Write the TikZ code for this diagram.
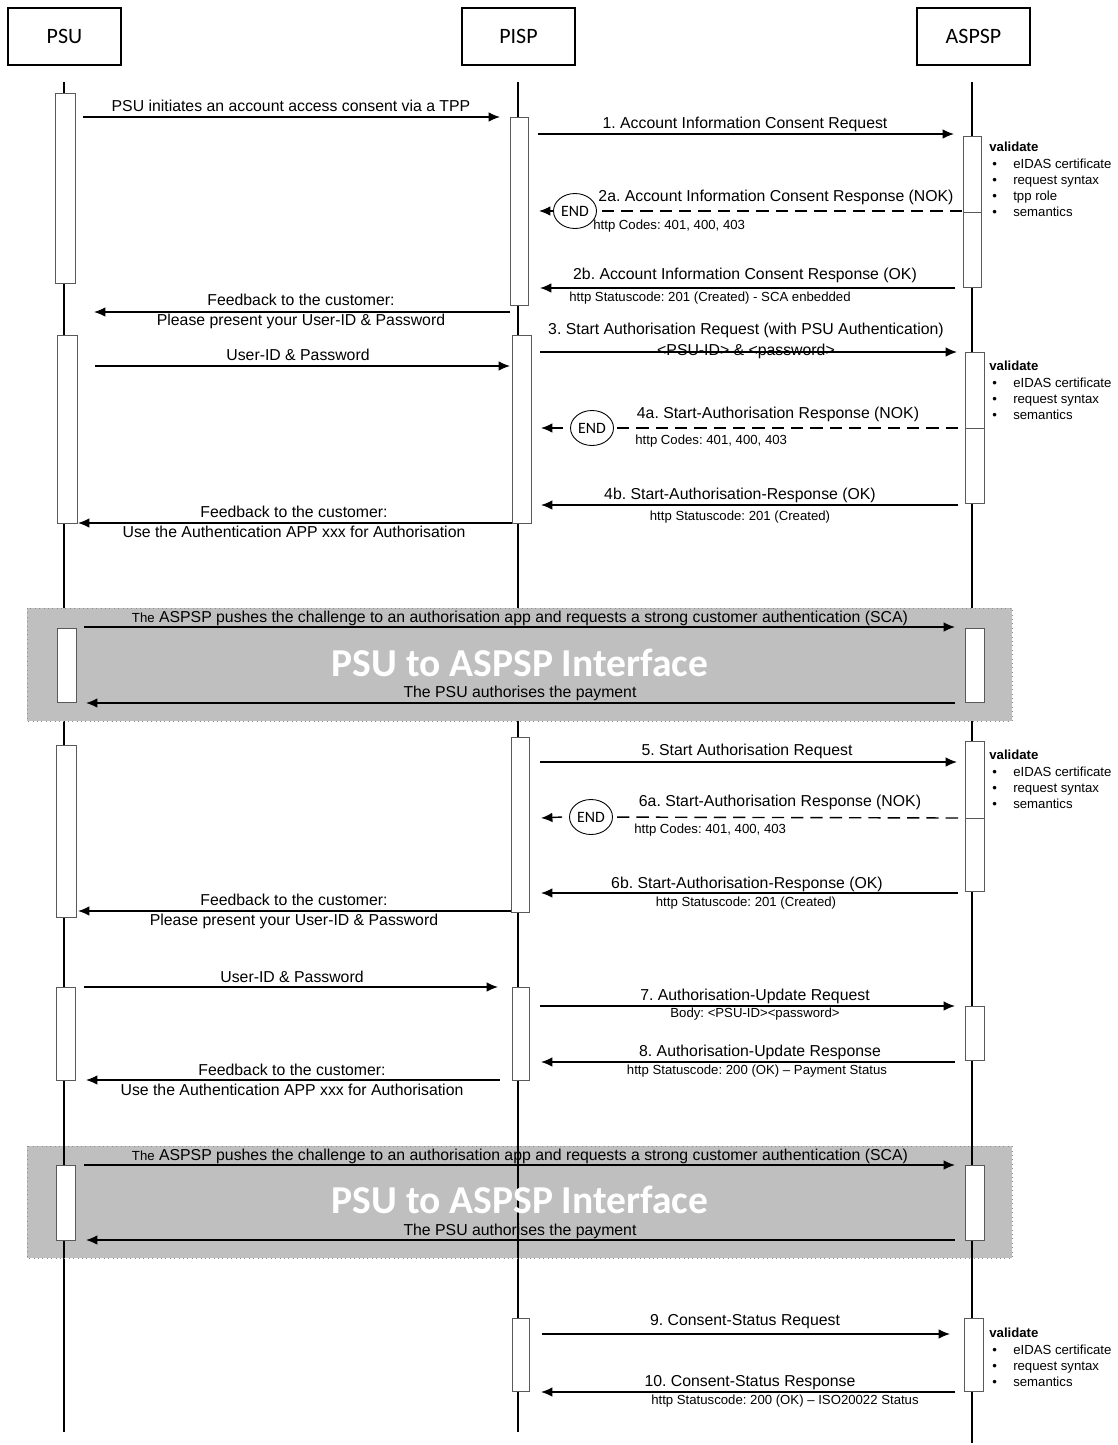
\documentclass[tikz,border=0pt]{standalone}
\usepackage{fontspec}
\setmainfont{Liberation Sans}
\newfontfamily\calibri{Carlito}
\usepackage{tikz}
\usetikzlibrary{shapes, arrows, arrows.meta, positioning}
\frenchspacing

\begin{document}
\begin{tikzpicture}[x=0.02cm, y=-0.02cm]
\tikzset{actor/.style = {draw, line width=0.6pt, minimum width=2.26cm, minimum height=1.14cm, font=\calibri\fontsize{12.5}{15}\selectfont},
	life/.style = {line width=1.3pt},
	act/.style = {draw=black!65, fill=white, line width=0.5pt},
	edge/.style = {-{Latex[length=6.5pt, width=5.5pt]}, line width=0.8pt},
	nok/.style = {line width=0.8pt, dash pattern=on 7pt off 4pt},
	lbl/.style = {inner sep=0pt, align=center, font=\fontsize{9}{11.3}\selectfont},
	sub/.style = {inner sep=0pt, font=\fontsize{7.5}{9}\selectfont},
	endstate/.style = {draw, ellipse, fill=white, inner sep=0pt, line width=0.5pt, minimum width=0.86cm, minimum height=0.7cm, font=\calibri\fontsize{9}{10}\selectfont},
	chk/.style = {anchor=north west, inner sep=0pt, align=left, font=\fontsize{7.5}{9.2}\selectfont},
	iface/.style = {fill=black!25, draw=black!45, dotted, line width=0.5pt},
	big/.style = {inner sep=0pt, text=white, font=\calibri\bfseries\fontsize{22.5}{26}\selectfont}}
\useasboundingbox (0,0) rectangle (1118,1445);
            % actors
	\node[actor] (psu) at (64.5,36.5) {PSU};
	\node[actor] (pisp) at (518.5,36.5) {PISP};
	\node[actor] (aspsp) at (973.5,36.5) {ASPSP};
            % lifelines
	\coordinate (psuTop) at (64,82);   \coordinate (psuBot) at (64,1432);
	\coordinate (pispTop) at (518,82); \coordinate (pispBot) at (518,1432);
	\coordinate (aspspTop) at (972,82); \coordinate (aspspBot) at (972,1443);
	\draw[life] (psuTop) -- (psuBot);
	\draw[life] (pispTop) -- (pispBot);
	\draw[life] (aspspTop) -- (aspspBot);

            % account information consent
	\draw[act] (55,93) rectangle (75,283);
	\draw[act] (510,117) rectangle (528,305);
	\draw[act] (963,136) rectangle (981,287);
	\draw[act] (963,212) -- (981,212);
	\node[chk] (val1) at (989,142) {\textbf{validate}\\\hspace{1.7pt}\textbullet\hspace{9.3pt}eIDAS certificate\\\hspace{1.7pt}\textbullet\hspace{9.3pt}request syntax\\\hspace{1.7pt}\textbullet\hspace{9.3pt}tpp role\\\hspace{1.7pt}\textbullet\hspace{9.3pt}semantics};

	\coordinate (m0s) at (83,117);  \coordinate (m0e) at (500,117);
	\draw[edge] (m0s) to (m0e);
	\node[lbl] (l0) at (291,106) {PSU initiates an account access consent via a TPP};

	\coordinate (m1s) at (538,134); \coordinate (m1e) at (954,134);
	\draw[edge] (m1s) to (m1e);
	\node[lbl] (l1) at (745,124) {1. Account Information Consent Request};

	\node[endstate] (end1) at (575,211) {END};
	\coordinate (m2as) at (962,211); \coordinate (m2ae) at (539,211);
	\draw[nok] (m2as) to (end1);
	\draw[edge] (end1.west) to (m2ae);
	\node[lbl] (l2a) at (776,197) {2a. Account Information Consent Response (NOK)};
	\node[sub, anchor=west] (s2a) at (593,226) {http Codes: 401, 400, 403};

	\coordinate (m2bs) at (955,288); \coordinate (m2be) at (540,288);
	\draw[edge] (m2bs) to (m2be);
	\node[lbl] (l2b) at (745,275) {2b. Account Information Consent Response (OK)};
	\node[sub] (s2b) at (710,298) {http Statuscode: 201 (Created) - SCA enbedded};

	\coordinate (f1s) at (510,312); \coordinate (f1e) at (94,312);
	\draw[edge] (f1s) to (f1e);
	\node[lbl] (lf1) at (301,311) {Feedback to the customer:\\Please present your User-ID \& Password};

            % start authorisation with psu authentication
	\draw[act] (57,335) rectangle (77,523);
	\draw[act] (512,335) rectangle (531,523);
	\draw[act] (965,352) rectangle (984,503);
	\draw[act] (965,428) -- (984,428);
	\node[chk] (val2) at (989,361) {\textbf{validate}\\\hspace{1.7pt}\textbullet\hspace{9.3pt}eIDAS certificate\\\hspace{1.7pt}\textbullet\hspace{9.3pt}request syntax\\\hspace{1.7pt}\textbullet\hspace{9.3pt}semantics};

	\coordinate (m3s) at (540,352); \coordinate (m3e) at (957,352);
	\draw[edge] (m3s) to (m3e);
	\node[lbl] (l3) at (746,330) {3. Start Authorisation Request (with PSU Authentication)};
	\node[lbl] (s3) at (746,351) {<PSU-ID> \& <password>};

	\coordinate (u1s) at (95,366); \coordinate (u1e) at (510,366);
	\draw[edge] (u1s) to (u1e);
	\node[lbl] (lu1) at (298,355) {User-ID \& Password};

	\node[endstate] (end2) at (592,428) {END};
	\coordinate (m4as) at (958,428); \coordinate (m4ae) at (541,428);
	\draw[nok] (m4as) to (end2);
	\draw[edge] ([xshift=-4pt]end2.west) to (m4ae);
	\node[lbl] (l4a) at (778,414) {4a. Start-Authorisation Response (NOK)};
	\node[sub, anchor=west] (s4a) at (635,441) {http Codes: 401, 400, 403};

	\coordinate (m4bs) at (958,505); \coordinate (m4be) at (541,505);
	\draw[edge] (m4bs) to (m4be);
	\node[lbl] (l4b) at (740,495) {4b. Start-Authorisation-Response (OK)};
	\node[sub] (s4b) at (740,517) {http Statuscode: 201 (Created)};

	\coordinate (f2s) at (512,523); \coordinate (f2e) at (78,523);
	\draw[edge] (f2s) to (f2e);
	\node[lbl] (lf2) at (294,522) {Feedback to the customer:\\Use the Authentication APP xxx for Authorisation};

            % psu to aspsp interface
	\coordinate (if1a) at (27,608); \coordinate (if1b) at (1012,721);
	\draw[iface] (if1a) rectangle (if1b);
	\draw[act] (57,628) rectangle (76,702);
	\draw[act] (965,628) rectangle (984,702);
	\coordinate (p1s) at (84,627); \coordinate (p1e) at (955,627);
	\draw[edge] (p1s) to (p1e);
	\node[lbl] (lp1) at (520,618) {{\fontsize{7.5}{9}\selectfont The} ASPSP pushes the challenge to an authorisation app and requests a strong customer authentication (SCA)};
	\node[big] (if1) at (520,663) {PSU to ASPSP Interface};
	\coordinate (q1s) at (955,703); \coordinate (q1e) at (86,703);
	\draw[edge] (q1s) to (q1e);
	\node[lbl] (lq1) at (520,693) {The PSU authorises the payment};

            % start authorisation
	\draw[act] (56,745) rectangle (76,917);
	\draw[act] (511,737) rectangle (529,912);
	\draw[act] (965,741) rectangle (984,891);
	\draw[act] (965,818) -- (984,818);
	\node[chk] (val3) at (989,750) {\textbf{validate}\\\hspace{1.7pt}\textbullet\hspace{9.3pt}eIDAS certificate\\\hspace{1.7pt}\textbullet\hspace{9.3pt}request syntax\\\hspace{1.7pt}\textbullet\hspace{9.3pt}semantics};

	\coordinate (m5s) at (540,762); \coordinate (m5e) at (957,762);
	\draw[edge] (m5s) to (m5e);
	\node[lbl] (l5) at (747,751) {5. Start Authorisation Request};

	\node[endstate] (end3) at (591,817) {END};
	\coordinate (m6as) at (958,818); \coordinate (m6ae) at (541,818);
	\draw[nok] (m6as) to (end3);
	\draw[edge] ([xshift=-4pt]end3.west) to (m6ae);
	\node[lbl] (l6a) at (780,802) {6a. Start-Authorisation Response (NOK)};
	\node[sub, anchor=west] (s6a) at (634,830) {http Codes: 401, 400, 403};

	\coordinate (m6bs) at (958,893); \coordinate (m6be) at (541,893);
	\draw[edge] (m6bs) to (m6be);
	\node[lbl] (l6b) at (747,884) {6b. Start-Authorisation-Response (OK)};
	\node[sub] (s6b) at (746,903) {http Statuscode: 201 (Created)};

	\coordinate (f3s) at (511,911); \coordinate (f3e) at (78,911);
	\draw[edge] (f3s) to (f3e);
	\node[lbl] (lf3) at (294,911) {Feedback to the customer:\\Please present your User-ID \& Password};

            % authorisation update
	\draw[act] (56,987) rectangle (75,1080);
	\draw[act] (512,987) rectangle (529,1080);
	\draw[act] (965,1006) rectangle (984,1060);

	\coordinate (u2s) at (84,987); \coordinate (u2e) at (498,987);
	\draw[edge] (u2s) to (u2e);
	\node[lbl] (lu2) at (292,977) {User-ID \& Password};

	\coordinate (m7s) at (540,1006); \coordinate (m7e) at (955,1006);
	\draw[edge] (m7s) to (m7e);
	\node[lbl] (l7) at (755,996) {7. Authorisation-Update Request};
	\node[sub] (s7) at (755,1014) {Body: <PSU-ID><password>};

	\coordinate (m8s) at (955,1062); \coordinate (m8e) at (541,1062);
	\draw[edge] (m8s) to (m8e);
	\node[lbl] (l8) at (760,1052) {8. Authorisation-Update Response};
	\node[sub] (s8) at (757,1071) {http Statuscode: 200 (OK) -- Payment Status};

	\coordinate (f4s) at (500,1080); \coordinate (f4e) at (86,1080);
	\draw[edge] (f4s) to (f4e);
	\node[lbl] (lf4) at (292,1080) {Feedback to the customer:\\Use the Authentication APP xxx for Authorisation};

            % psu to aspsp interface (again)
	\coordinate (if2a) at (27,1146); \coordinate (if2b) at (1012,1258);
	\draw[iface] (if2a) rectangle (if2b);
	\draw[life] (psuTop |- if2a) -- (psuTop |- if2b);
	\draw[life] (pispTop |- if2a) -- (pispTop |- if2b);
	\draw[life] (aspspTop |- if2a) -- (aspspTop |- if2b);
	\draw[act] (56,1165) rectangle (75,1240);
	\draw[act] (965,1165) rectangle (984,1240);
	\coordinate (p2s) at (84,1165); \coordinate (p2e) at (955,1165);
	\draw[edge] (p2s) to (p2e);
	\node[lbl] (lp2) at (520,1156) {{\fontsize{7.5}{9}\selectfont The} ASPSP pushes the challenge to an authorisation app and requests a strong customer authentication (SCA)};
	\node[big] (if2) at (520,1200) {PSU to ASPSP Interface};
	\coordinate (q2s) at (955,1240); \coordinate (q2e) at (86,1240);
	\draw[edge] (q2s) to (q2e);
	\node[lbl] (lq2) at (520,1231) {The PSU authorises the payment};

            % consent status
	\draw[act] (512,1318) rectangle (529,1391);
	\draw[act] (964,1318) rectangle (983,1391);
	\node[chk] (val4) at (989,1328) {\textbf{validate}\\\hspace{1.7pt}\textbullet\hspace{9.3pt}eIDAS certificate\\\hspace{1.7pt}\textbullet\hspace{9.3pt}request syntax\\\hspace{1.7pt}\textbullet\hspace{9.3pt}semantics};

	\coordinate (m9s) at (542,1334); \coordinate (m9e) at (950,1334);
	\draw[edge] (m9s) to (m9e);
	\node[lbl] (l9) at (745,1322) {9. Consent-Status Request};

	\coordinate (m10s) at (955,1392); \coordinate (m10e) at (541,1392);
	\draw[edge] (m10s) to (m10e);
	\node[lbl] (l10) at (750,1383) {10. Consent-Status Response};
	\node[sub] (s10) at (785,1401) {http Statuscode: 200 (OK) -- ISO20022 Status};
\end{tikzpicture}
\end{document}
